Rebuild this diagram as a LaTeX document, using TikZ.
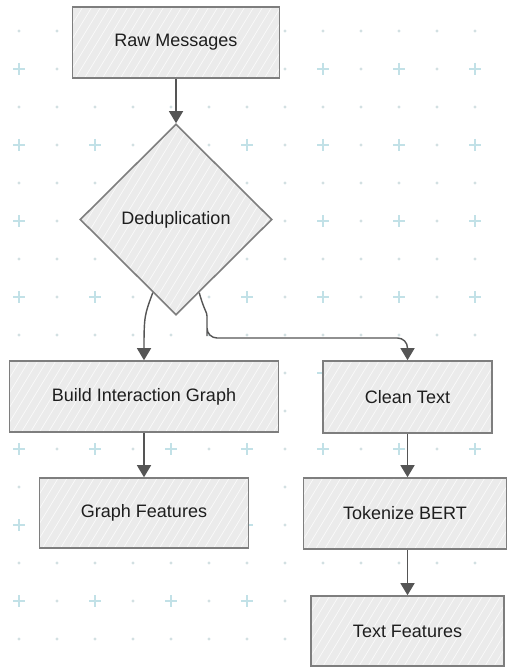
\documentclass[tikz,border=0pt]{standalone}
\usepackage{fontspec}
\setmainfont{Liberation Sans}
\usetikzlibrary{shapes.geometric,arrows.meta,calc}
\definecolor{boxfill}{HTML}{EBEBEB}
\definecolor{boxline}{HTML}{7E7E7E}
\definecolor{arrcol}{HTML}{555555}
\definecolor{crosscol}{HTML}{C2E1E7}
\definecolor{dotcol}{HTML}{D2E0E2}
\definecolor{txtcol}{HTML}{1E1E1E}
\tikzset{
  hatch/.style={path picture={
    \foreach \k in {-30,...,40}{
      \draw[white, line width=0.7pt, opacity=0.75]
        ([xshift=\k*9pt,yshift=-5pt]path picture bounding box.south west) -- ++(125pt,205pt);
    }}},
  procbox/.style={rectangle, draw=boxline, fill=boxfill, line width=1.6pt, hatch,
    text=txtcol, font=\fontsize{18}{21}\selectfont, inner sep=0pt},
  decbox/.style={diamond, draw=boxline, fill=boxfill, line width=1.6pt, hatch,
    text=txtcol, font=\fontsize{18}{21}\selectfont, inner sep=0pt,
    minimum width=192pt, minimum height=191pt},
  arr/.style={draw=arrcol, line width=1.4pt, -{Triangle[length=12pt,width=14pt]}}
}
\begin{document}
\begin{tikzpicture}[x=1pt,y=-1pt]
\useasboundingbox (0,0) rectangle (507,668);
\fill[white] (0,0) rectangle (507,668);
% background grid
\foreach \i in {0,...,12}{
  \foreach \j in {0,...,16}{
    \pgfmathtruncatemacro{\ev}{(mod(\i,2)==0) && (mod(\j,2)==1)}
    \ifnum\ev=1
      \draw[crosscol, line width=1.6pt] ({19+38*\i-6},{31+38*\j}) -- ({19+38*\i+6},{31+38*\j})
        ({19+38*\i},{31+38*\j-6}) -- ({19+38*\i},{31+38*\j+6});
    \else
      \fill[dotcol] ({19+38*\i},{31+38*\j}) circle (1.7pt);
    \fi
  }
}
% nodes
\node[procbox, minimum width=207pt, minimum height=71pt] (raw) at (176,42.5) {Raw Messages};
\node[decbox] (dedup) at (176,219.5) {Deduplication};
\node[procbox, minimum width=269pt, minimum height=71pt] (big) at (144,396.5) {Build Interaction Graph};
\node[procbox, minimum width=169pt, minimum height=72pt] (clean) at (407.5,397) {Clean Text};
\node[procbox, minimum width=209pt, minimum height=70pt] (gf) at (144,513) {Graph Features};
\node[procbox, minimum width=203pt, minimum height=71pt] (tok) at (405,513.5) {Tokenize BERT};
\node[procbox, minimum width=193pt, minimum height=70pt] (tf) at (407.5,631) {Text Features};
% connectors
\coordinate (p1) at ($(dedup.west)!0.76!(dedup.south)$);
\coordinate (p2) at ($(dedup.east)!0.76!(dedup.south)$);
\coordinate (bend) at (207,338);
\draw[arr] (raw.south) -- (dedup.north);
\draw[arr] (p1) .. controls ($(p1)+(-8,22)$) and ($(big.north)+(0,-45)$) .. (big.north);
\draw[arr, rounded corners=10pt] (p2) .. controls ($(p2)+(5,18)$) and (207,312) .. (207,326)
  -- (bend) -- (clean.north |- bend) -- (clean.north);
\draw[arr] (big.south) -- (gf.north -| big.south);
\draw[arr] (clean.south) -- (tok.north -| clean.south);
\draw[arr] (tok.south -| clean.south) -- (tf.north);
\end{tikzpicture}
\end{document}
